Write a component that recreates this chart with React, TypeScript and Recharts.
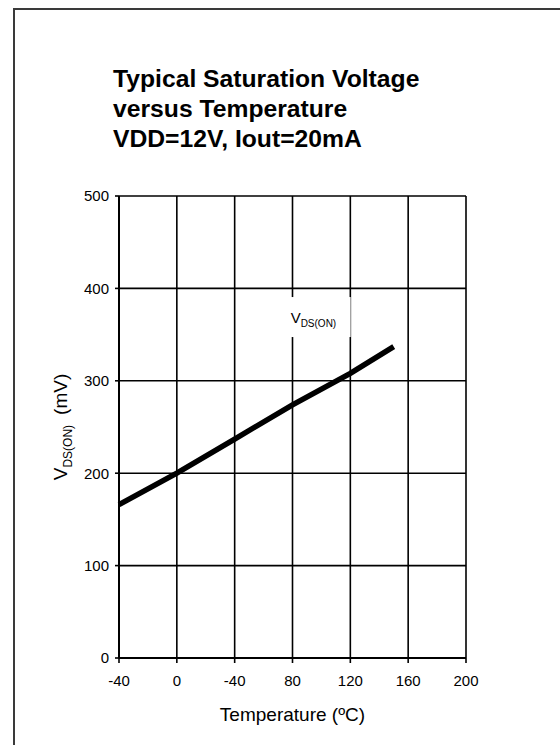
import React from "react";
import {
  LineChart,
  Line,
  XAxis,
  YAxis,
  CartesianGrid,
  ReferenceDot,
} from "recharts";

// temperature (°C) vs typical VDS(ON) (mV)
const temps = [-40, 0, 40, 80, 120, 150];
const vdsOn = [166, 200, 237, 274, 308, 337];

const xTicks = [-40, 0, 40, 80, 120, 160, 200];
const xTickLabels = ["-40", "0", "-40", "80", "120", "160", "200"];
const yTicks = [0, 100, 200, 300, 400, 500];

const titleLines = [
  "Typical Saturation Voltage",
  "versus Temperature",
  "VDD=12V, Iout=20mA",
];

// where the in-plot series label sits (data units)
const seriesLabelAt = { t: 96, v: 369 };

const data = temps.map((t, i) => ({ t, v: vdsOn[i] }));

const FONT = "'Liberation Sans', Arial, Helvetica, sans-serif";

const SeriesLabel = (props: any) => {
  const { cx, cy } = props;
  return (
    <g>
      <rect x={cx - 33} y={cy - 20} width={68} height={40} fill="#fff" />
      <text x={cx - 25} y={cy + 6} fontFamily={FONT} fontSize={15} fill="#000">
        V
        <tspan dy={4} fontSize={10}>
          DS(ON)
        </tspan>
      </text>
    </g>
  );
};

export default function App() {
  return (
    <div
      style={{
        position: "absolute",
        left: 0,
        top: 0,
        width: 560,
        height: 745,
        background: "#fff",
        overflow: "hidden",
      }}
    >
      <div
        style={{
          position: "absolute",
          left: 13,
          top: 8,
          width: 560,
          height: 745,
          borderLeft: "2px solid #3a3a3a",
          borderTop: "2px solid #3a3a3a",
        }}
      />
      <div
        style={{
          position: "absolute",
          left: 113,
          top: 64,
          fontFamily: FONT,
          fontWeight: "bold",
          fontSize: 24.7,
          lineHeight: "30px",
          color: "#000",
          whiteSpace: "nowrap",
        }}
      >
        {titleLines.map((s) => (
          <div key={s}>{s}</div>
        ))}
      </div>
      <div style={{ position: "absolute", left: 0, top: 0 }}>
        <LineChart
          width={560}
          height={745}
          data={data}
          margin={{ top: 196, right: 94, bottom: 0, left: 59 }}
        >
          <CartesianGrid
            stroke="#000"
            strokeWidth={1.6}
            horizontalValues={yTicks}
            verticalValues={xTicks}
          />
          <XAxis
            type="number"
            dataKey="t"
            domain={[-40, 200]}
            ticks={xTicks}
            tickFormatter={(v: number) => xTickLabels[xTicks.indexOf(v)]}
            height={87}
            tickSize={5}
            tickMargin={12}
            interval={0}
            axisLine={{ stroke: "#000", strokeWidth: 2 }}
            tickLine={{ stroke: "#000", strokeWidth: 1.6 }}
            tick={{ fill: "#000", fontSize: 15, fontFamily: FONT }}
            label={{
              content: (p: any) => {
                const vb = p.viewBox || {};
                return (
                  <text
                    x={vb.x + vb.width / 2}
                    y={721}
                    textAnchor="middle"
                    fontFamily={FONT}
                    fontSize={19}
                    fill="#000"
                  >
                    Temperature (ºC)
                  </text>
                );
              },
            }}
          />
          <YAxis
            type="number"
            domain={[0, 500]}
            ticks={yTicks}
            width={60}
            tickSize={4}
            tickMargin={6}
            interval={0}
            axisLine={{ stroke: "#000", strokeWidth: 2 }}
            tickLine={{ stroke: "#000", strokeWidth: 1.6 }}
            tick={{ fill: "#000", fontSize: 15, fontFamily: FONT }}
            label={{
              content: (p: any) => {
                const vb = p.viewBox || {};
                const cy = vb.y + vb.height / 2;
                return (
                  <text
                    x={67}
                    y={cy}
                    transform={`rotate(-90, 67, ${cy})`}
                    textAnchor="middle"
                    fontFamily={FONT}
                    fontSize={19}
                    fill="#000"
                  >
                    V
                    <tspan dy={5} fontSize={12}>
                      DS(ON)
                    </tspan>
                    <tspan dy={-5} dx={10}>
                      (mV)
                    </tspan>
                  </text>
                );
              },
            }}
          />
          <ReferenceDot
            x={seriesLabelAt.t}
            y={seriesLabelAt.v}
            r={0}
            shape={SeriesLabel}
            ifOverflow="visible"
          />
          <Line
            type="linear"
            dataKey="v"
            stroke="#000"
            strokeWidth={5.5}
            dot={false}
            activeDot={false}
            isAnimationActive={false}
          />
        </LineChart>
      </div>
    </div>
  );
}
